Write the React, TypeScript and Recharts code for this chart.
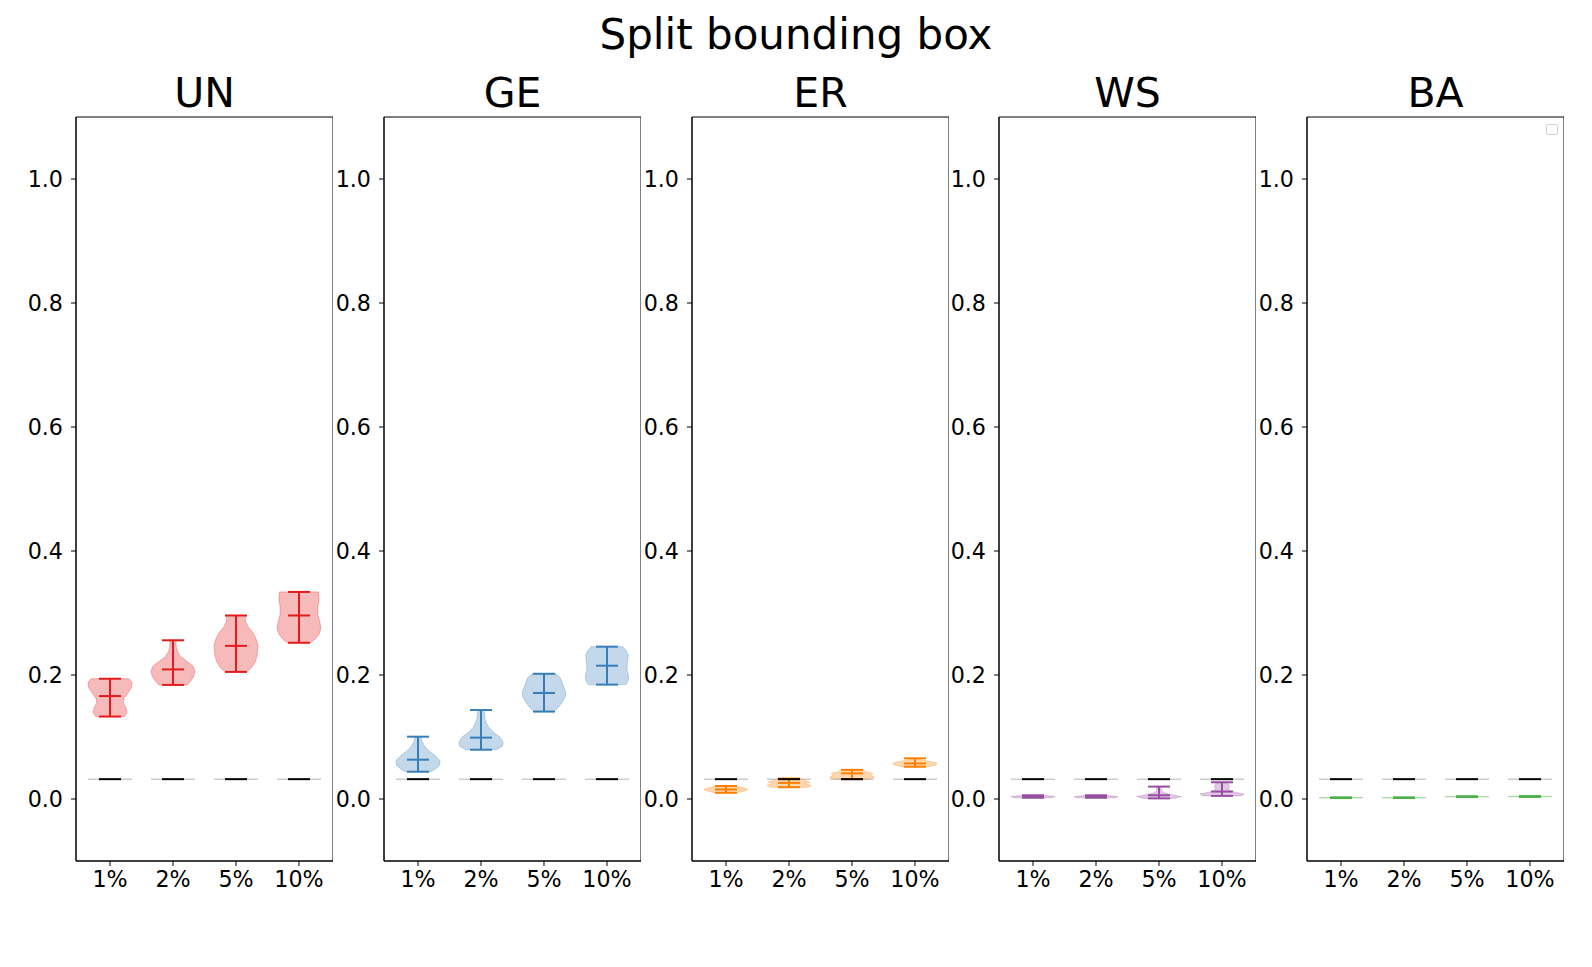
import React from 'react';
import { ComposedChart, XAxis, YAxis, Scatter, ReferenceArea } from 'recharts';

// ---------------- data ----------------
const FIG_TITLE = 'Split bounding box';
const CATEGORIES = ['1%', '2%', '5%', '10%'];
const POSITIONS = [1, 2, 3, 4];
const Y_TICKS = [0, 0.2, 0.4, 0.6, 0.8, 1.0];
const PANEL_NAMES = ['UN', 'GE', 'ER', 'WS', 'BA'];
const PANEL_COLORS = ['#e41a1c', '#377eb8', '#ff7f00', '#984ea3', '#4daf4a'];
const REFERENCE_VALUE = [0.032, 0.032, 0.032, 0.032];

const UN_MIN = [0.133, 0.184, 0.205, 0.252];
const UN_MEAN = [0.166, 0.209, 0.247, 0.296];
const UN_MAX = [0.194, 0.256, 0.296, 0.334];
// violin profiles: [value, half-width]
const UN_SHAPE = [
  [[0.133, 0.23], [0.14, 0.27], [0.148, 0.25], [0.155, 0.21], [0.162, 0.22], [0.17, 0.28], [0.18, 0.34], [0.188, 0.35], [0.194, 0.3]],
  [[0.184, 0.22], [0.19, 0.28], [0.198, 0.33], [0.206, 0.35], [0.214, 0.32], [0.222, 0.22], [0.23, 0.12], [0.238, 0.07], [0.246, 0.05], [0.256, 0.05]],
  [[0.205, 0.17], [0.212, 0.25], [0.222, 0.31], [0.235, 0.34], [0.248, 0.35], [0.258, 0.32], [0.268, 0.27], [0.278, 0.19], [0.287, 0.15], [0.296, 0.15]],
  [[0.252, 0.18], [0.258, 0.26], [0.266, 0.32], [0.276, 0.35], [0.286, 0.33], [0.298, 0.3], [0.31, 0.3], [0.322, 0.32], [0.334, 0.31]],
];

const GE_MIN = [0.044, 0.0795, 0.141, 0.1845];
const GE_MEAN = [0.0634, 0.099, 0.171, 0.215];
const GE_MAX = [0.1005, 0.1435, 0.202, 0.2457];
const GE_SHAPE = [
  [[0.044, 0.2], [0.048, 0.27], [0.054, 0.34], [0.062, 0.35], [0.07, 0.27], [0.078, 0.17], [0.086, 0.1], [0.094, 0.06], [0.1005, 0.05]],
  [[0.0795, 0.24], [0.085, 0.34], [0.092, 0.35], [0.1, 0.3], [0.108, 0.19], [0.116, 0.12], [0.124, 0.08], [0.132, 0.06], [0.1435, 0.05]],
  [[0.141, 0.15], [0.147, 0.22], [0.155, 0.28], [0.163, 0.33], [0.171, 0.35], [0.179, 0.32], [0.187, 0.29], [0.195, 0.26], [0.202, 0.19]],
  [[0.1845, 0.3], [0.192, 0.34], [0.2, 0.34], [0.208, 0.32], [0.216, 0.32], [0.224, 0.33], [0.232, 0.34], [0.24, 0.3], [0.2457, 0.25]],
];

const ER_MIN = [0.01, 0.019, 0.032, 0.052];
const ER_MEAN = [0.0155, 0.026, 0.0414, 0.0573];
const ER_MAX = [0.021, 0.033, 0.047, 0.0656];
const ER_SHAPE = [
  [[0.01, 0.15], [0.0125, 0.28], [0.0155, 0.35], [0.018, 0.28], [0.021, 0.12]],
  [[0.019, 0.3], [0.022, 0.35], [0.025, 0.25], [0.027, 0.33], [0.03, 0.25], [0.033, 0.18]],
  [[0.032, 0.25], [0.035, 0.35], [0.038, 0.3], [0.041, 0.33], [0.044, 0.22], [0.047, 0.15]],
  [[0.052, 0.2], [0.055, 0.33], [0.058, 0.35], [0.061, 0.22], [0.0635, 0.08], [0.0656, 0.05]],
];

const WS_MIN = [0.002, 0.002, 0.001, 0.005];
const WS_MEAN = [0.004, 0.004, 0.006, 0.012];
const WS_MAX = [0.006, 0.006, 0.02, 0.027];
const WS_SHAPE = [
  [[0.002, 0.3], [0.004, 0.35], [0.006, 0.15]],
  [[0.002, 0.3], [0.004, 0.35], [0.006, 0.15]],
  [[0.001, 0.25], [0.004, 0.35], [0.007, 0.2], [0.01, 0.08], [0.014, 0.04], [0.02, 0.03]],
  [[0.005, 0.3], [0.008, 0.35], [0.011, 0.2], [0.015, 0.1], [0.02, 0.12], [0.024, 0.1], [0.027, 0.08]],
];

const BA_MIN = [0.0015, 0.0015, 0.0033, 0.0035];
const BA_MEAN = [0.002, 0.002, 0.0037, 0.004];
const BA_MAX = [0.0025, 0.0025, 0.0042, 0.0045];
const BA_SHAPE = [
  [[0.0015, 0.3], [0.002, 0.35], [0.0025, 0.3]],
  [[0.0015, 0.3], [0.002, 0.35], [0.0025, 0.3]],
  [[0.0033, 0.3], [0.0037, 0.35], [0.0042, 0.3]],
  [[0.0035, 0.3], [0.004, 0.35], [0.0045, 0.3]],
];

const PANELS = [
  { min: UN_MIN, mean: UN_MEAN, max: UN_MAX, shape: UN_SHAPE },
  { min: GE_MIN, mean: GE_MEAN, max: GE_MAX, shape: GE_SHAPE },
  { min: ER_MIN, mean: ER_MEAN, max: ER_MAX, shape: ER_SHAPE },
  { min: WS_MIN, mean: WS_MEAN, max: WS_MAX, shape: WS_SHAPE },
  { min: BA_MIN, mean: BA_MEAN, max: BA_MAX, shape: BA_SHAPE },
].map((p, i) => ({ ...p, name: PANEL_NAMES[i], color: PANEL_COLORS[i] }));

// ---------------- layout ----------------
const FONT = '"DejaVu Sans", sans-serif';
const FIG_W = 1592;
const FIG_H = 967;
const BOX_LEFT = [76, 384, 692, 999, 1307];
const BOX_W = 257;
const Y_AXIS_W = 50;
const TOP = 117;
const X_AXIS_H = 30;
const BOTTOM_MARGIN = 76;
const X_DOMAIN = [0.46, 4.54];
const Y_DOMAIN = [-0.1, 1.1];
const CAP_HALF = 0.175;
const REF_BODY_HALF = 0.35;

const noDot = () => <g />;

function segmentsLine(stroke: string, width: number, opacity = 1) {
  return (props: any) => {
    const pts = props.points || [];
    const segs = [];
    for (let i = 0; i + 1 < pts.length; i += 2) {
      segs.push(
        <line
          key={i}
          x1={pts[i].x}
          y1={pts[i].y}
          x2={pts[i + 1].x}
          y2={pts[i + 1].y}
          stroke={stroke}
          strokeWidth={width}
          strokeOpacity={opacity}
        />
      );
    }
    return <g>{segs}</g>;
  };
}

function bodyLine(color: string) {
  return (props: any) => {
    const pts = props.points || [];
    if (!pts.length) return <g />;
    const d = pts.map((p: any, i: number) => `${i === 0 ? 'M' : 'L'}${p.x},${p.y}`).join(' ') + ' Z';
    return <path d={d} fill={color} fillOpacity={0.3} stroke={color} strokeOpacity={0.3} strokeWidth={1} strokeLinejoin="round" />;
  };
}

function Panel({ panel, index }: { panel: any; index: number }) {
  const bodies = POSITIONS.map((pos, k) => {
    const shape = panel.shape[k];
    const right = shape.map(([v, w]: number[]) => ({ x: pos + w, y: v }));
    const left = shape.slice().reverse().map(([v, w]: number[]) => ({ x: pos - w, y: v }));
    return right.concat(left);
  });
  const segs: { x: number; y: number }[] = [];
  POSITIONS.forEach((pos, k) => {
    const mn = panel.min[k];
    const mx = panel.max[k];
    const me = panel.mean[k];
    segs.push({ x: pos, y: mn }, { x: pos, y: mx });
    [mn, mx, me].forEach((v) => segs.push({ x: pos - CAP_HALF, y: v }, { x: pos + CAP_HALF, y: v }));
  });
  const refBody: { x: number; y: number }[] = [];
  const refCaps: { x: number; y: number }[] = [];
  POSITIONS.forEach((pos, k) => {
    const v = REFERENCE_VALUE[k];
    refBody.push({ x: pos - REF_BODY_HALF, y: v }, { x: pos + REF_BODY_HALF, y: v });
    refCaps.push({ x: pos - CAP_HALF, y: v }, { x: pos + CAP_HALF, y: v });
  });

  return (
    <div style={{ position: 'absolute', left: BOX_LEFT[index] - Y_AXIS_W, top: 0 }}>
      <ComposedChart
        width={Y_AXIS_W + BOX_W}
        height={FIG_H}
        margin={{ top: TOP, right: 0, bottom: BOTTOM_MARGIN, left: 0 }}
      >
        <XAxis
          type="number"
          dataKey="x"
          domain={X_DOMAIN}
          ticks={POSITIONS}
          interval={0}
          allowDataOverflow
          tickFormatter={(v: number) => CATEGORIES[POSITIONS.indexOf(v)]}
          height={X_AXIS_H}
          stroke="#000"
          tickSize={5}
          tickMargin={5}
          tick={{ fill: '#000', fontSize: 22.2, fontFamily: FONT }}
        />
        <YAxis
          type="number"
          dataKey="y"
          domain={Y_DOMAIN}
          ticks={Y_TICKS}
          interval={0}
          allowDataOverflow
          tickFormatter={(v: number) => v.toFixed(1)}
          width={Y_AXIS_W}
          stroke="#000"
          tickSize={5}
          tickMargin={8}
          tick={{ fill: '#000', fontSize: 22.2, fontFamily: FONT }}
        />
        <ReferenceArea
          x1={X_DOMAIN[0]}
          x2={X_DOMAIN[1]}
          y1={Y_DOMAIN[0]}
          y2={Y_DOMAIN[1]}
          fill="none"
          fillOpacity={0}
          stroke="#000"
          strokeWidth={1}
          ifOverflow="visible"
        />
        <Scatter
          data={refBody}
          fill="#000"
          shape={noDot}
          line={segmentsLine('#000', 1, 0.3)}
          isAnimationActive={false}
          legendType="none"
        />
        {bodies.map((b, k) => (
          <Scatter
            key={`body-${k}`}
            data={b}
            fill={panel.color}
            shape={noDot}
            line={bodyLine(panel.color)}
            isAnimationActive={false}
            legendType="none"
          />
        ))}
        <Scatter
          data={segs}
          fill={panel.color}
          shape={noDot}
          line={segmentsLine(panel.color, 2)}
          isAnimationActive={false}
          legendType="none"
        />
        <Scatter
          data={refCaps}
          fill="#000"
          shape={noDot}
          line={segmentsLine('#000', 2)}
          isAnimationActive={false}
          legendType="none"
        />
      </ComposedChart>
    </div>
  );
}

export default function App() {
  return (
    <div
      style={{
        position: 'absolute',
        left: 0,
        top: 0,
        width: FIG_W,
        height: FIG_H,
        background: '#fff',
        fontFamily: FONT,
        overflow: 'hidden',
      }}
    >
      {PANELS.map((p, i) => (
        <Panel key={p.name} panel={p} index={i} />
      ))}
      <svg
        width={FIG_W}
        height={FIG_H}
        style={{ position: 'absolute', left: 0, top: 0, pointerEvents: 'none' }}
      >
        <text x={796} y={49} textAnchor="middle" fontSize={42} fontFamily={FONT} fill="#000">
          {FIG_TITLE}
        </text>
        {PANELS.map((p, i) => (
          <text
            key={p.name}
            x={BOX_LEFT[i] + BOX_W / 2}
            y={107}
            textAnchor="middle"
            fontSize={41}
            fontFamily={FONT}
            fill="#000"
          >
            {p.name}
          </text>
        ))}
        <rect x={1546.5} y={124.5} width={11} height={10} rx={2} fill="#fff" fillOpacity={0.8} stroke="#ccc" strokeWidth={1} />
      </svg>
    </div>
  );
}
